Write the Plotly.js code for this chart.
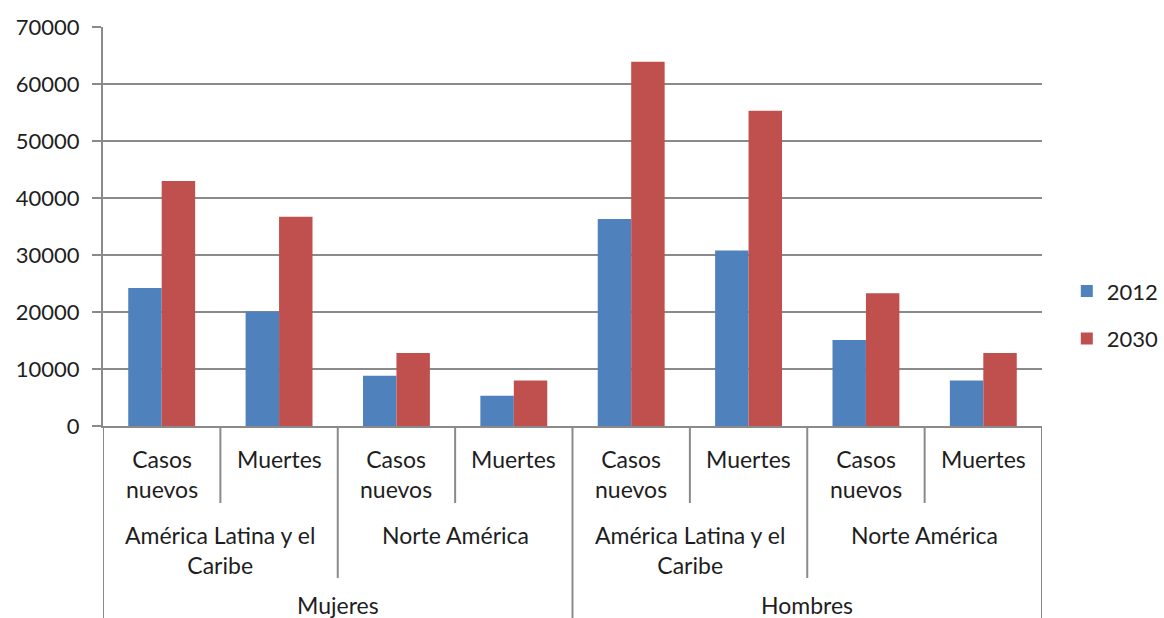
<!DOCTYPE html>
<html>
<head>
<meta charset="utf-8">
<script src="https://cdn.plot.ly/plotly-3.0.1.min.js"></script>
<style>html,body{margin:0;padding:0;background:#fff;}#chart{width:1164px;height:618px;}</style>
</head>
<body>
<div id="chart"></div>
<script>
// ---- data ----
const measures = ["Casos<br>nuevos", "Muertes", "Casos<br>nuevos", "Muertes", "Casos<br>nuevos", "Muertes", "Casos<br>nuevos", "Muertes"];
const regions = ["América Latina y el<br>Caribe", "Norte América", "América Latina y el<br>Caribe", "Norte América"];
const sexes = ["Mujeres", "Hombres"];
const seriesNames = ["2012", "2030"];
const values2012 = [24200, 20100, 8800, 5300, 36300, 30800, 15100, 8000];
const values2030 = [43000, 36700, 12800, 8000, 63900, 55300, 23300, 12800];

// ---- layout constants ----
const W = 1164, H = 618;
const M = {l: 103, r: 122, t: 27, b: 192};
const plotH = H - M.t - M.b;
const textColor = '#1e1e1e';
const lineColor = '#8a8a8a';
const fontFam = 'Lato, "Liberation Sans", sans-serif';
const px = p => -p / plotH; // pixels below axis -> paper coords

const xIdx = measures.map((_, i) => i);

const traces = [
  {type: 'bar', name: seriesNames[0], x: xIdx, y: values2012, marker: {color: '#4F81BD'}, legendgroup: 'a', hoverinfo: 'y'},
  {type: 'bar', name: seriesNames[1], x: xIdx, y: values2030, marker: {color: '#C0504D'}, legendgroup: 'b', hoverinfo: 'y'}
];

const annotations = [];
const shapes = [];
const lblFont = {family: fontFam, size: 23, color: textColor};
// level 1 labels
measures.forEach((m, i) => {
  annotations.push({x: i, y: px(17), xref: 'x', yref: 'paper', text: m, showarrow: false,
    yanchor: 'top', xanchor: 'center', font: lblFont});
});
// level 2 labels
const per2 = measures.length / regions.length;
regions.forEach((r, j) => {
  annotations.push({x: j * per2 + (per2 - 1) / 2, y: px(93), xref: 'x', yref: 'paper', text: r, showarrow: false,
    yanchor: 'top', xanchor: 'center', font: lblFont});
});
// level 3 labels
const per3 = measures.length / sexes.length;
sexes.forEach((s, k) => {
  annotations.push({x: k * per3 + (per3 - 1) / 2, y: px(163), xref: 'x', yref: 'paper', text: s, showarrow: false,
    yanchor: 'top', xanchor: 'center', font: lblFont});
});
// divider lines
for (let i = 0; i <= measures.length; i++) {
  let depth;
  if (i % per3 === 0) depth = 192;
  else if (i % per2 === 0) depth = 152;
  else depth = 77;
  shapes.push({type: 'line', xref: 'x', yref: 'paper', x0: i - 0.5, x1: i - 0.5, y0: 0, y1: px(depth),
    line: {color: lineColor, width: 2}});
}

const layout = {
  width: W, height: H,
  margin: M,
  paper_bgcolor: '#fff', plot_bgcolor: '#fff',
  barmode: 'group', bargap: 0.43, bargroupgap: 0,
  font: {family: fontFam, color: textColor},
  xaxis: {range: [-0.5, measures.length - 0.5], showticklabels: false, showgrid: false, zeroline: false,
    showline: true, linecolor: lineColor, linewidth: 2, ticks: '', fixedrange: true},
  yaxis: {range: [0, 70000], dtick: 10000, tick0: 0, tickformat: 'd', showgrid: true, gridcolor: lineColor, gridwidth: 2,
    zeroline: false, showline: true, linecolor: lineColor, linewidth: 2, ticks: 'outside', ticklen: 9,
    tickcolor: lineColor, tickwidth: 2, tickfont: {family: fontFam, size: 22, color: textColor},
    ticklabelstandoff: 8, automargin: false, fixedrange: true},
  showlegend: true,
  legend: {xref: 'container', yref: 'container', x: 0.9165, xanchor: 'left', y: 0.49, yanchor: 'middle',
    font: {family: fontFam, size: 22, color: textColor},
    tracegroupgap: 16, bgcolor: 'rgba(0,0,0,0)'},
  annotations: annotations,
  shapes: shapes
};

Plotly.newPlot('chart', traces, layout, {displayModeBar: false, staticPlot: true});
</script>
</body>
</html>
